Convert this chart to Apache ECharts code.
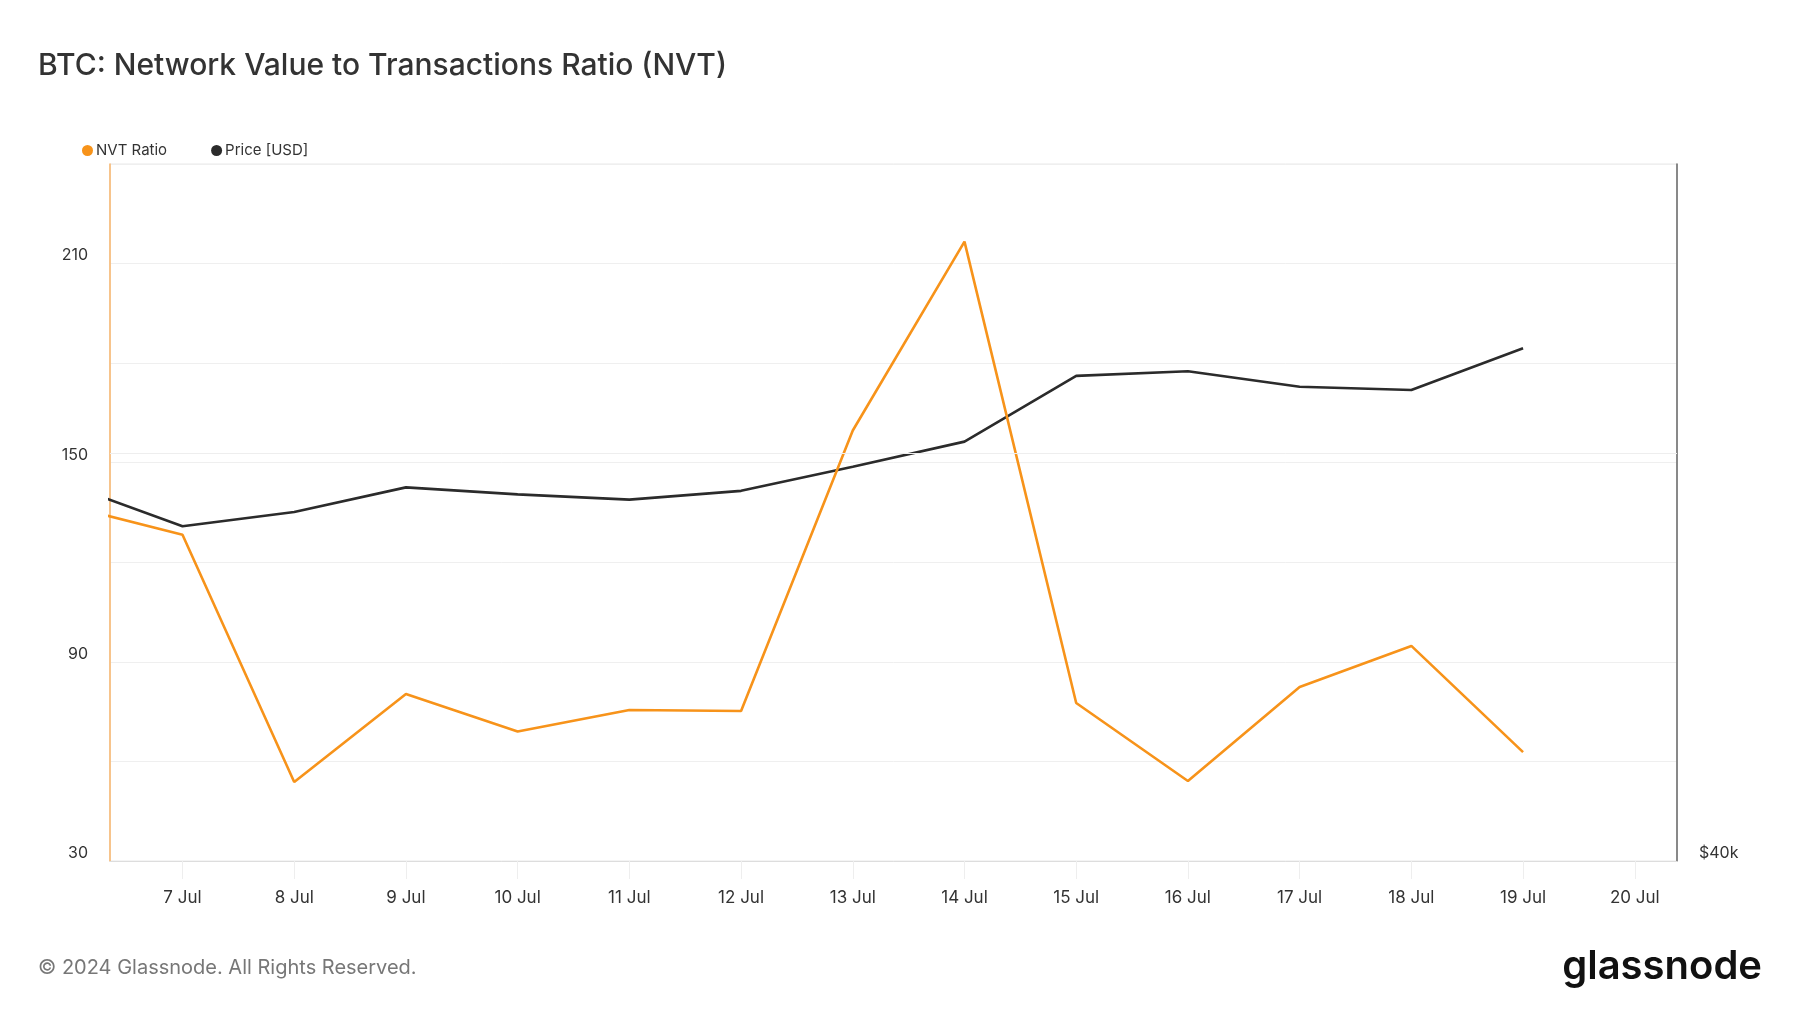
<!DOCTYPE html>
<html>
<head>
<meta charset="utf-8">
<script src="https://cdn.jsdelivr.net/npm/echarts@6/dist/echarts.min.js"></script>
<style>
html,body{margin:0;padding:0;background:#fff;}
#chart{width:1800px;height:1013px;}
</style>
</head>
<body>
<div id="chart"></div>
<script>
// Data (daily, July 2024)
const days = [6, 7, 8, 9, 10, 11, 12, 13, 14, 15, 16, 17, 18, 19];
const nvtRatio = [136.8, 128.3, 53.8, 80.3, 69.0, 75.5, 75.2, 159.7, 216.6, 77.6, 54.1, 82.4, 94.8, 62.8];
const priceUSD = [58100, 55800, 56600, 58000, 57600, 57300, 57800, 59200, 60700, 64800, 65100, 64100, 63900, 66600];
const nvtTicks = [30, 90, 150, 210];
const priceTickLabel = '$40k';

const DAY = 86400000;
const t = d => new Date(2024, 6, d).getTime();
const nvtData = days.map((d, i) => [t(d), nvtRatio[i]]);
const priceData = days.map((d, i) => [t(d), priceUSD[i]]);

const chart = echarts.init(document.getElementById('chart'), null, {renderer: 'canvas'});
const FONT = 'Inter, "Noto Sans", sans-serif';

chart.setOption({
  backgroundColor: '#ffffff',
  animation: false,
  title: {
    text: 'BTC: Network Value to Transactions Ratio (NVT)',
    left: 33, top: 46,
    textStyle: {fontFamily: FONT, fontSize: 30, fontWeight: 500, color: '#333333'}
  },
  legend: {
    left: 77, top: 138,
    icon: 'circle', itemWidth: 11, itemHeight: 11, itemGap: 44,
    textStyle: {fontFamily: FONT, fontSize: 15, color: '#333333', padding: [0,0,0,-2]},
    data: ['NVT Ratio', 'Price [USD]']
  },
  grid: {
    left: 110, right: 123, top: 164, bottom: 152,
    show: true, borderColor: '#e8e8e8', borderWidth: 1, containLabel: false
  },
  xAxis: {
    type: 'time',
    min: t(7) - 0.649 * DAY,
    max: t(20) + 0.378 * DAY,
    minInterval: DAY, maxInterval: DAY,
    axisLine: {show: true, lineStyle: {color: '#dddddd'}},
    axisTick: {show: true, length: 18, lineStyle: {color: '#eeeeee'}},
    splitLine: {show: false},
    axisLabel: {
      fontFamily: FONT, fontSize: 17, color: '#333333', margin: 28,
      formatter: v => { const d = new Date(v); return d.getDate() + ' Jul'; }
    }
  },
  yAxis: [
    {
      type: 'value', min: 30, max: 240, interval: 30, position: 'left',
      axisLine: {show: true, lineStyle: {color: '#f9b46a', width: 1.5}},
      axisTick: {show: false},
      splitLine: {show: true, lineStyle: {color: '#efefef', width: 1}},
      axisLabel: {
        fontFamily: FONT, fontSize: 16, color: '#333333', margin: 22, verticalAlign: 'bottom',
        formatter: v => nvtTicks.includes(v) ? String(v) : ''
      }
    },
    {
      type: 'log', min: 40000, max: 80000, position: 'right', logBase: 2,
      axisLine: {show: true, lineStyle: {color: '#666666', width: 1.5}},
      axisTick: {show: false},
      splitLine: {show: false},
      axisLabel: {
        fontFamily: FONT, fontSize: 16, color: '#333333', margin: 22, verticalAlign: 'bottom',
        formatter: v => Math.abs(v - 40000) < 1 ? priceTickLabel : ''
      }
    }
  ],
  series: [
    {
      name: 'NVT Ratio', type: 'line', yAxisIndex: 0, data: nvtData,
      showSymbol: false, symbol: 'circle', color: '#f7931a',
      lineStyle: {color: '#f7931a', width: 2.6}, clip: true, z: 3
    },
    {
      name: 'Price [USD]', type: 'line', yAxisIndex: 1, data: priceData,
      showSymbol: false, symbol: 'circle', color: '#2b2b2b',
      lineStyle: {color: '#2b2b2b', width: 2.6}, clip: true, z: 2,
      markLine: {
        silent: true, symbol: 'none', label: {show: false},
        lineStyle: {color: '#eeeeee', width: 1, type: 'solid'},
        data: [{yAxis: 60000}]
      }
    }
  ],
  graphic: [
    {
      type: 'text', left: 38, top: 958,
      style: {text: '© 2024 Glassnode. All Rights Reserved.', fontFamily: FONT, fontSize: 20, fill: '#777777'}
    },
    {
      type: 'text', right: 38, top: 947,
      style: {text: 'glassnode', fontFamily: FONT, fontSize: 40, fontWeight: 600, fill: '#111111'}
    }
  ]
});
</script>
</body>
</html>
